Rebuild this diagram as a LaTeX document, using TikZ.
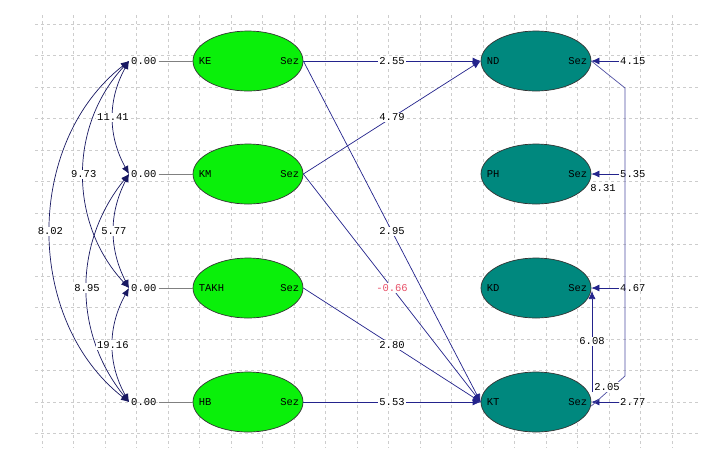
\documentclass[tikz,border=0pt]{standalone}
\usepackage{fontspec}
\newfontfamily\lisrelfont{Liberation Mono}
\usetikzlibrary{shapes.geometric,arrows.meta}

\definecolor{exo green}{RGB}{10,240,10}
\definecolor{endo teal}{RGB}{0,136,126}
\definecolor{arrow navy}{RGB}{35,35,140}
\definecolor{neg red}{RGB}{232,80,104}
\definecolor{grid gray}{RGB}{205,205,205}

\begin{document}
\begin{tikzpicture}[x=1pt, y=-1pt,
  font=\lisrelfont\fontsize{10.5}{12}\selectfont,
  latent/.style={ellipse, draw=black!80, line width=0.7pt, minimum width=110pt, minimum height=60pt, inner sep=0pt},
  coef/.style={fill=white, inner sep=1pt},
  effect/.style={draw=arrow navy, line width=0.7pt, -{Latex[length=8pt,width=7pt]}},
  cov/.style={draw=arrow navy!70!black, line width=0.7pt, {Latex[length=8pt,width=7pt]}-{Latex[length=8pt,width=7pt]}},
  gridline/.style={draw=grid gray, dashed, line width=0.5pt}]

% Page size of the LISREL screenshot
\useasboundingbox (0,0) rectangle (701,448);
\fill[white] (0,0) rectangle (701,448);

% Background grid of the path diagram window
\foreach \i in {0,...,20}
  \draw[gridline] ({42+31.5*\i}, 15) -- ({42+31.5*\i}, 448);
\foreach \j in {0,...,13}
  \draw[gridline] (35, {24+31.5*\j}) -- (701, {24+31.5*\j});

% Exogenous latent variables (left column)
\node[latent, fill=exo green] (KE)   at (248,61)  {};
\node[latent, fill=exo green] (KM)   at (248,174) {};
\node[latent, fill=exo green] (TAKH) at (248,288) {};
\node[latent, fill=exo green] (HB)   at (248,402) {};

\node[anchor=west, inner sep=1pt] (KE name)   at ([xshift=5pt]KE.west)   {KE};
\node[anchor=west, inner sep=1pt] (KM name)   at ([xshift=5pt]KM.west)   {KM};
\node[anchor=west, inner sep=1pt] (TAKH name) at ([xshift=5pt]TAKH.west) {TAKH};
\node[anchor=west, inner sep=1pt] (HB name)   at ([xshift=5pt]HB.west)   {HB};
\node[anchor=east, inner sep=1pt] (KE sez)   at ([xshift=-3pt]KE.east)   {Sez};
\node[anchor=east, inner sep=1pt] (KM sez)   at ([xshift=-3pt]KM.east)   {Sez};
\node[anchor=east, inner sep=1pt] (TAKH sez) at ([xshift=-3pt]TAKH.east) {Sez};
\node[anchor=east, inner sep=1pt] (HB sez)   at ([xshift=-3pt]HB.east)   {Sez};

% Endogenous latent variables (right column)
\node[latent, fill=endo teal] (ND) at (536,61)  {};
\node[latent, fill=endo teal] (PH) at (536,174) {};
\node[latent, fill=endo teal] (KD) at (536,288) {};
\node[latent, fill=endo teal] (KT) at (536,402) {};

\node[anchor=west, inner sep=1pt] (ND name) at ([xshift=5pt]ND.west) {ND};
\node[anchor=west, inner sep=1pt] (PH name) at ([xshift=5pt]PH.west) {PH};
\node[anchor=west, inner sep=1pt] (KD name) at ([xshift=5pt]KD.west) {KD};
\node[anchor=west, inner sep=1pt] (KT name) at ([xshift=5pt]KT.west) {KT};
\node[anchor=east, inner sep=1pt] (ND sez) at ([xshift=-3pt]ND.east) {Sez};
\node[anchor=east, inner sep=1pt] (PH sez) at ([xshift=-3pt]PH.east) {Sez};
\node[anchor=east, inner sep=1pt] (KD sez) at ([xshift=-3pt]KD.east) {Sez};
\node[anchor=east, inner sep=1pt] (KT sez) at ([xshift=-3pt]KT.east) {Sez};

% Variances of the exogenous variables
\node[anchor=west, inner sep=2pt] (KE var)   at (129,61)  {0.00};
\node[anchor=west, inner sep=2pt] (KM var)   at (129,174) {0.00};
\node[anchor=west, inner sep=2pt] (TAKH var) at (129,288) {0.00};
\node[anchor=west, inner sep=2pt] (HB var)   at (129,402) {0.00};
\draw[gray] (KE var)   -- (KE);
\draw[gray] (KM var)   -- (KM);
\draw[gray] (TAKH var) -- (TAKH);
\draw[gray] (HB var)   -- (HB);

% Covariances between the exogenous variables
\draw[cov] (KE var.west)   to[bend right=29] node[coef] {11.41} (KM var.west);
\draw[cov] (KE var.west)   to[bend right=43] node[coef] {9.73}  (TAKH var.west);
\draw[cov] (KE var.west)   to[bend right=52] node[coef] {8.02}  (HB var.west);
\draw[cov] (KM var.west)   to[bend right=27] node[coef] {5.77}  (TAKH var.west);
\draw[cov] (KM var.west)   to[bend right=39] node[coef] {8.95}  (HB var.west);
\draw[cov] (TAKH var.west) to[bend right=29] node[coef] {19.16} (HB var.west);

% Structural paths
\draw[effect] (KE.east)   -- node[coef] {2.55} (ND.west);
\draw[effect] (KM.east)   -- node[coef] {4.79} (ND.west);
\draw[effect] (KE.east)   -- node[coef] {2.95} (KT.west);
\draw[effect] (KM.east)   -- node[coef, text=neg red] {-0.66} (KT.west);
\draw[effect] (TAKH.east) -- node[coef] {2.80} (KT.west);
\draw[effect] (HB.east)   -- node[coef] {5.53} (KT.west);

% Error variances of the endogenous variables
\node[anchor=west, inner sep=1pt] (ND err) at (619,61)  {4.15};
\node[anchor=west, inner sep=1pt] (PH err) at (619,174) {5.35};
\node[anchor=west, inner sep=1pt] (KD err) at (619,288) {4.67};
\node[anchor=west, inner sep=1pt] (KT err) at (619,402) {2.77};
\draw[effect] (ND err.west) -- (ND.east);
\draw[effect] (PH err.west) -- (PH.east);
\draw[effect] (KD err.west) -- (KD.east);
\draw[effect] (KT err.west) -- (KT.east);

% Error covariances
\coordinate (ND cov top) at (625,88);
\coordinate (ND cov bot) at (625,376);
\draw[draw=arrow navy!80, line width=0.7pt] (ND.east) -- (ND cov top) -- (ND cov bot) -- ([yshift=-4pt]KT.east);
\node[coef] (PH cov) at (603,188) {8.31};
\node[coef] (KT cov) at (607,387) {2.05};

\coordinate (KD cov low)  at (592,392);
\coordinate (KD cov high) at (592,291);
\draw[effect] (KD cov low) -- node[coef] {6.08} (KD cov high);

\end{tikzpicture}
\end{document}
